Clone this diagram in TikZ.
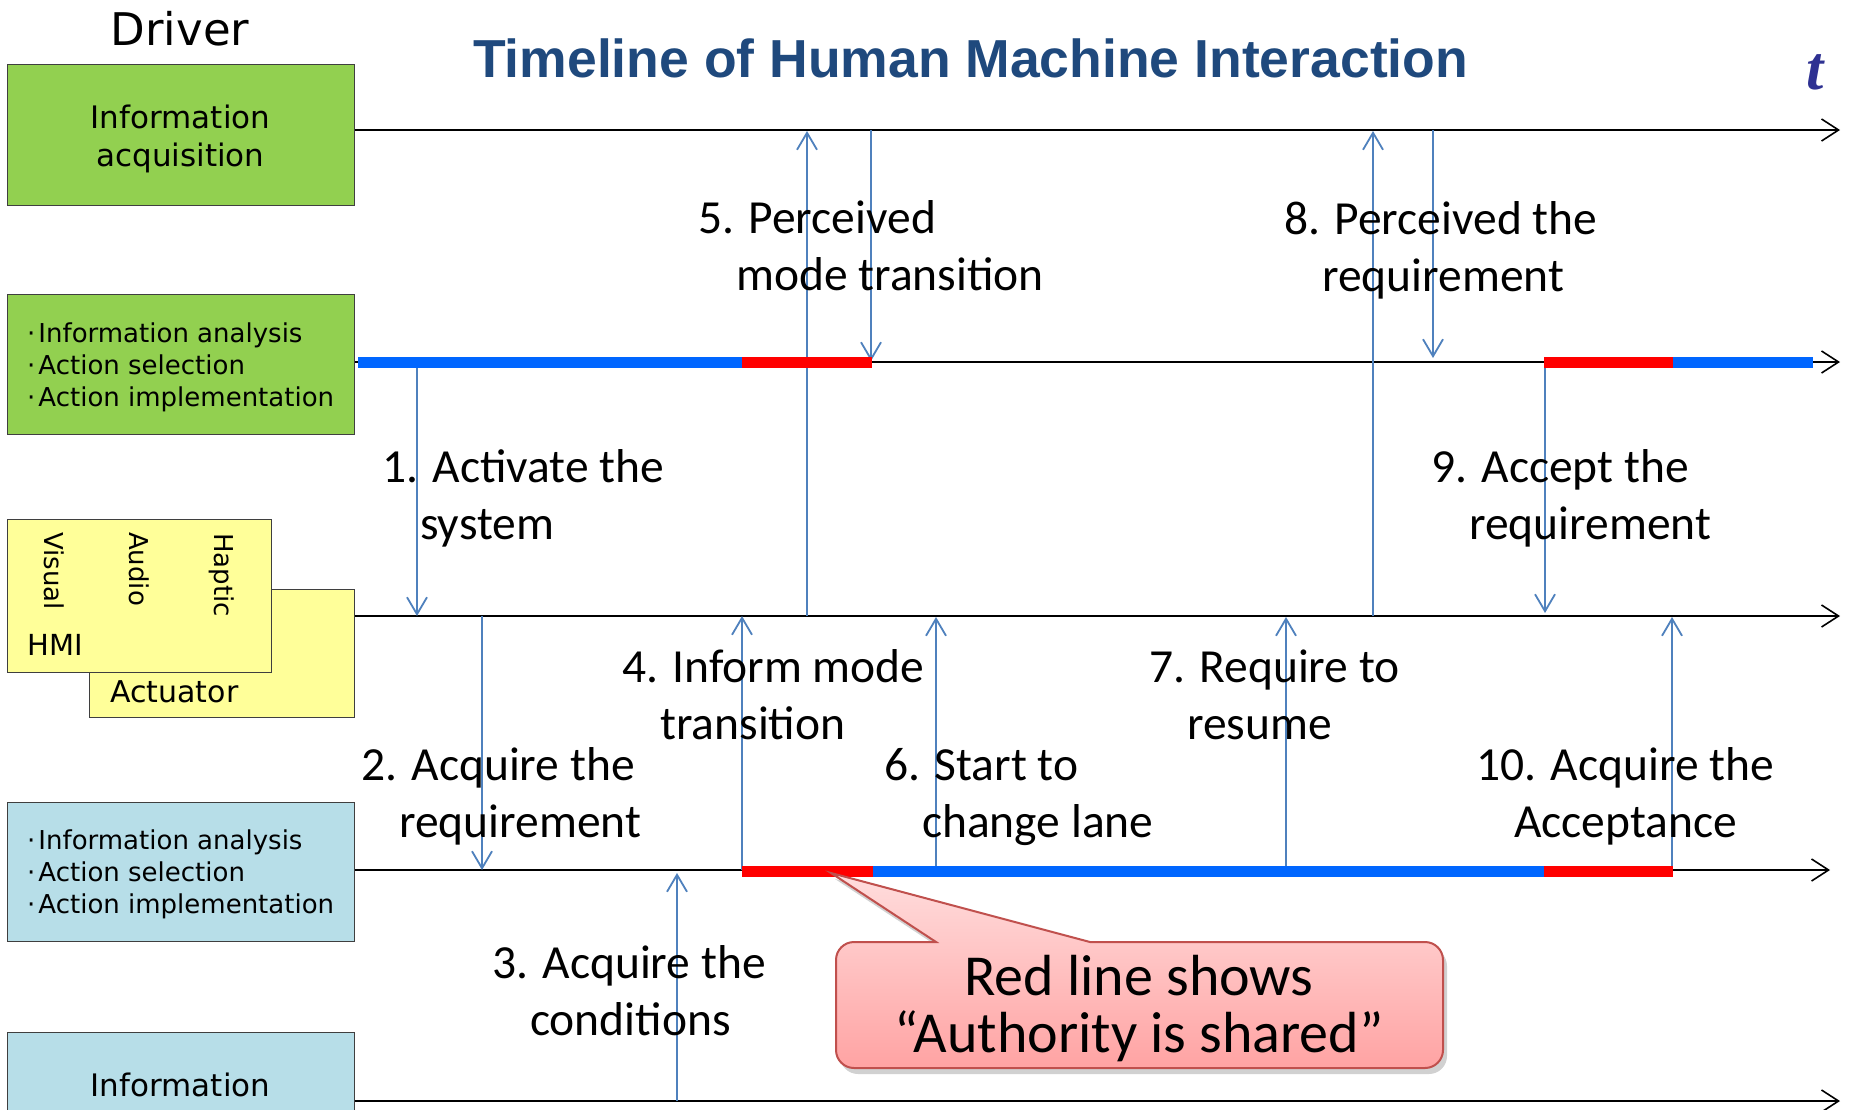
\documentclass[tikz,border=0pt]{standalone}
\usepackage{fontspec}
\setmainfont{DejaVu Sans}
\newfontfamily\calfont{Carlito}
\newfontfamily\arialfont{Liberation Sans}
\newfontfamily\serffont{Liberation Serif}
\usetikzlibrary{arrows.meta}

\definecolor{boxgreen}{HTML}{92D050}
\definecolor{boxblue}{HTML}{B7DEE8}
\definecolor{boxyellow}{HTML}{FFFF99}
\definecolor{edgegray}{HTML}{3F3F3F}
\definecolor{arrowblue}{HTML}{4F81BD}
\definecolor{barblue}{HTML}{0066FF}
\definecolor{barred}{HTML}{FF0000}
\definecolor{titleblue}{HTML}{1F497D}
\definecolor{tblue}{HTML}{2E3192}
\definecolor{calloutedge}{HTML}{C0504D}
\definecolor{callouttop}{HTML}{FFDDDD}
\definecolor{calloutbot}{HTML}{FFA3A3}

% two-line step label, second line indented
\newcommand\steplabel[2]{\vtop{\baselineskip=57pt\hbox{#1}\hbox{\hspace*{38pt}#2}}}
% two centred lines
\newcommand\centredpair[2]{\vtop{\baselineskip=38pt\halign{\hfil##\hfil\cr#1\cr#2\cr}}}
% three bullet lines
\newcommand\bulletlines[3]{\vtop{\baselineskip=32pt
  \hbox{·\kern3pt#1}\hbox{·\kern3pt#2}\hbox{·\kern3pt#3}}}

\begin{document}
\begin{tikzpicture}[x=1pt,y=-1pt,
  stage/.style={draw=edgegray, line width=1.3pt, inner sep=0, anchor=north west},
  boxtext/.style={inner sep=0, font=\fontsize{31}{38}\selectfont},
  listtext/.style={inner sep=0, anchor=base west, font=\fontsize{26}{32}\selectfont},
  modetext/.style={inner sep=0, anchor=base west, rotate=-90, font=\fontsize{26}{30}\selectfont},
  lbl/.style={anchor=base west, inner sep=0, font=\calfont\fontsize{47.5}{57}\selectfont},
  timeline/.style={draw=black, line width=1.6pt, -{Straight Barb[length=17pt,width=22pt]}},
  flow/.style={draw=arrowblue, line width=1.8pt, -{Straight Barb[length=17pt,width=20pt]}},
  bar/.style={line width=11pt, line cap=butt}]

\useasboundingbox (0,0) rectangle (1854,1109);
\fill[white] (0,0) rectangle (1854,1109);

% ---------- headings ----------
\node[anchor=base, inner sep=0, font=\fontsize{45}{50}\selectfont] (driver) at (180,45) {Driver};
\node[anchor=base west, inner sep=0, text=titleblue,
      font=\arialfont\bfseries\fontsize{53.5}{60}\selectfont] (title) at (473,77)
      {Timeline of Human Machine Interaction};
\node[anchor=base, inner sep=0, text=tblue,
      font=\serffont\bfseries\itshape\fontsize{62}{62}\selectfont] (tlabel) at (1815,89) {t};

% ---------- stage boxes ----------
\node[stage, fill=boxgreen, minimum width=347pt, minimum height=141pt] (acq) at (7,64) {};
\node[stage, fill=boxgreen, minimum width=347pt, minimum height=140pt] (drvproc) at (7,294) {};
\node[stage, fill=boxyellow, minimum width=265pt, minimum height=128pt] (act) at (89,589) {};
\node[stage, fill=boxyellow, minimum width=264pt, minimum height=153pt] (hmi) at (7,519) {};
\node[stage, fill=boxblue, minimum width=347pt, minimum height=139pt] (sysproc) at (7,802) {};
\begin{scope}
  \clip (0,0) rectangle (1854,1109);
  \node[stage, fill=boxblue, minimum width=347pt, minimum height=141pt] (sysacq) at (7,1032) {};
\end{scope}

% ---------- box texts ----------
\node[boxtext, anchor=base] (acqtext) at (180.5,128) {\centredpair{Information}{acquisition}};
\node[listtext] (drvlist) at (27,342) {\bulletlines{Information analysis}{Action selection}{Action implementation}};
\node[modetext] (visual) at (44,532) {Visual};
\node[modetext] (audio) at (129,532) {Audio};
\node[modetext] (haptic) at (214,533) {Haptic};
\node[inner sep=0, anchor=base west, font=\fontsize{29}{32}\selectfont] (hmitext) at (27,655) {HMI};
\node[inner sep=0, anchor=base west, font=\fontsize{30}{32}\selectfont] (acttext) at (110,702) {Actuator};
\node[listtext] (syslist) at (27,849) {\bulletlines{Information analysis}{Action selection}{Action implementation}};
\node[boxtext, anchor=base] (sysacqtext) at (180.5,1096) {Information};

% ---------- time axes ----------
\coordinate (end1) at (1840,130);
\coordinate (end2) at (1840,362);
\coordinate (end3) at (1840,616);
\coordinate (end4) at (1830,870);
\coordinate (end5) at (1840,1101);
\draw[timeline] (acq.east |- end1) -- (end1);
\draw[timeline] (drvproc.east |- end2) -- (end2);
\draw[timeline] (act.east |- end3) -- (end3);
\draw[timeline] (sysproc.east |- end4) -- (end4);
\draw[timeline] (sysacq.east |- end5) -- (end5);

% ---------- interaction arrows ----------
\coordinate (f1s) at (417,362);   \coordinate (f1e) at (417,616);
\coordinate (f2s) at (482,616);   \coordinate (f2e) at (482,870);
\coordinate (f3s) at (677,1101);  \coordinate (f3e) at (677,873);
\coordinate (f4s) at (742,870);   \coordinate (f4e) at (742,616);
\coordinate (f5s) at (807,616);   \coordinate (f5e) at (807,131);
\coordinate (f5bs) at (871,130);  \coordinate (f5be) at (871,361);
\coordinate (f6s) at (936,870);   \coordinate (f6e) at (936,617);
\coordinate (f7s) at (1286,870);  \coordinate (f7e) at (1286,617);
\coordinate (f8s) at (1373,616);  \coordinate (f8e) at (1373,131);
\coordinate (f8bs) at (1433,130); \coordinate (f8be) at (1433,358);
\coordinate (f9s) at (1545,362);  \coordinate (f9e) at (1545,613);
\coordinate (f10s) at (1672,870); \coordinate (f10e) at (1672,617);
\foreach \a in {f1,f2,f3,f4,f5,f5b,f6,f7,f8,f8b,f9,f10}
  \draw[flow] (\a s) -- (\a e);

% ---------- authority bars ----------
\draw[bar, barblue] (358,362) -- (742,362);
\draw[bar, barred]  (742,362) -- (872,362);
\draw[bar, barred]  (1544,362) -- (1673,362);
\draw[bar, barblue] (1673,362) -- (1813,362);
\draw[bar, barred]  (742,871) -- (873,871);
\draw[bar, barblue] (873,871) -- (1544,871);
\draw[bar, barred]  (1544,871) -- (1673,871);

% ---------- step labels ----------
\node[lbl] (l1)  at (382,482)  {\steplabel{1. Activate the}{system}};
\node[lbl] (l2)  at (361,780)  {\steplabel{2. Acquire the}{requirement}};
\node[lbl] (l3)  at (492,978)  {\steplabel{3. Acquire the}{conditions}};
\node[lbl] (l4)  at (622,682)  {\steplabel{4. Inform mode}{transition}};
\node[lbl] (l5)  at (698,233)  {\steplabel{5. Perceived}{mode transition}};
\node[lbl] (l6)  at (884,780)  {\steplabel{6. Start to}{change lane}};
\node[lbl] (l7)  at (1149,682) {\steplabel{7. Require to}{resume}};
\node[lbl] (l8)  at (1284,234) {\steplabel{8. Perceived the}{requirement}};
\node[lbl] (l9)  at (1431,482) {\steplabel{9. Accept the}{requirement}};
\node[lbl] (l10) at (1476,780) {\steplabel{10. Acquire the}{Acceptance}};

% ---------- callout ----------
\begin{scope}[shift={(4,6)}]
  \fill[black, opacity=0.18] (936,942) -- (831,873) -- (1090,942) [rounded corners=18pt]
    -- (1443,942) -- (1443,1068) -- (836,1068) -- (836,942) [sharp corners] -- cycle;
\end{scope}
\shade[top color=callouttop, bottom color=calloutbot, draw=calloutedge, line width=2pt]
  (936,942) -- (831,873) -- (1090,942) [rounded corners=18pt]
  -- (1443,942) -- (1443,1068) -- (836,1068) -- (836,942) [sharp corners] -- cycle;
\node[inner sep=0, align=center, font=\calfont\fontsize{58}{57}\selectfont] (callouttext)
  at (1139,1009) {Red line shows\\“Authority is shared”};
\end{tikzpicture}
\end{document}
